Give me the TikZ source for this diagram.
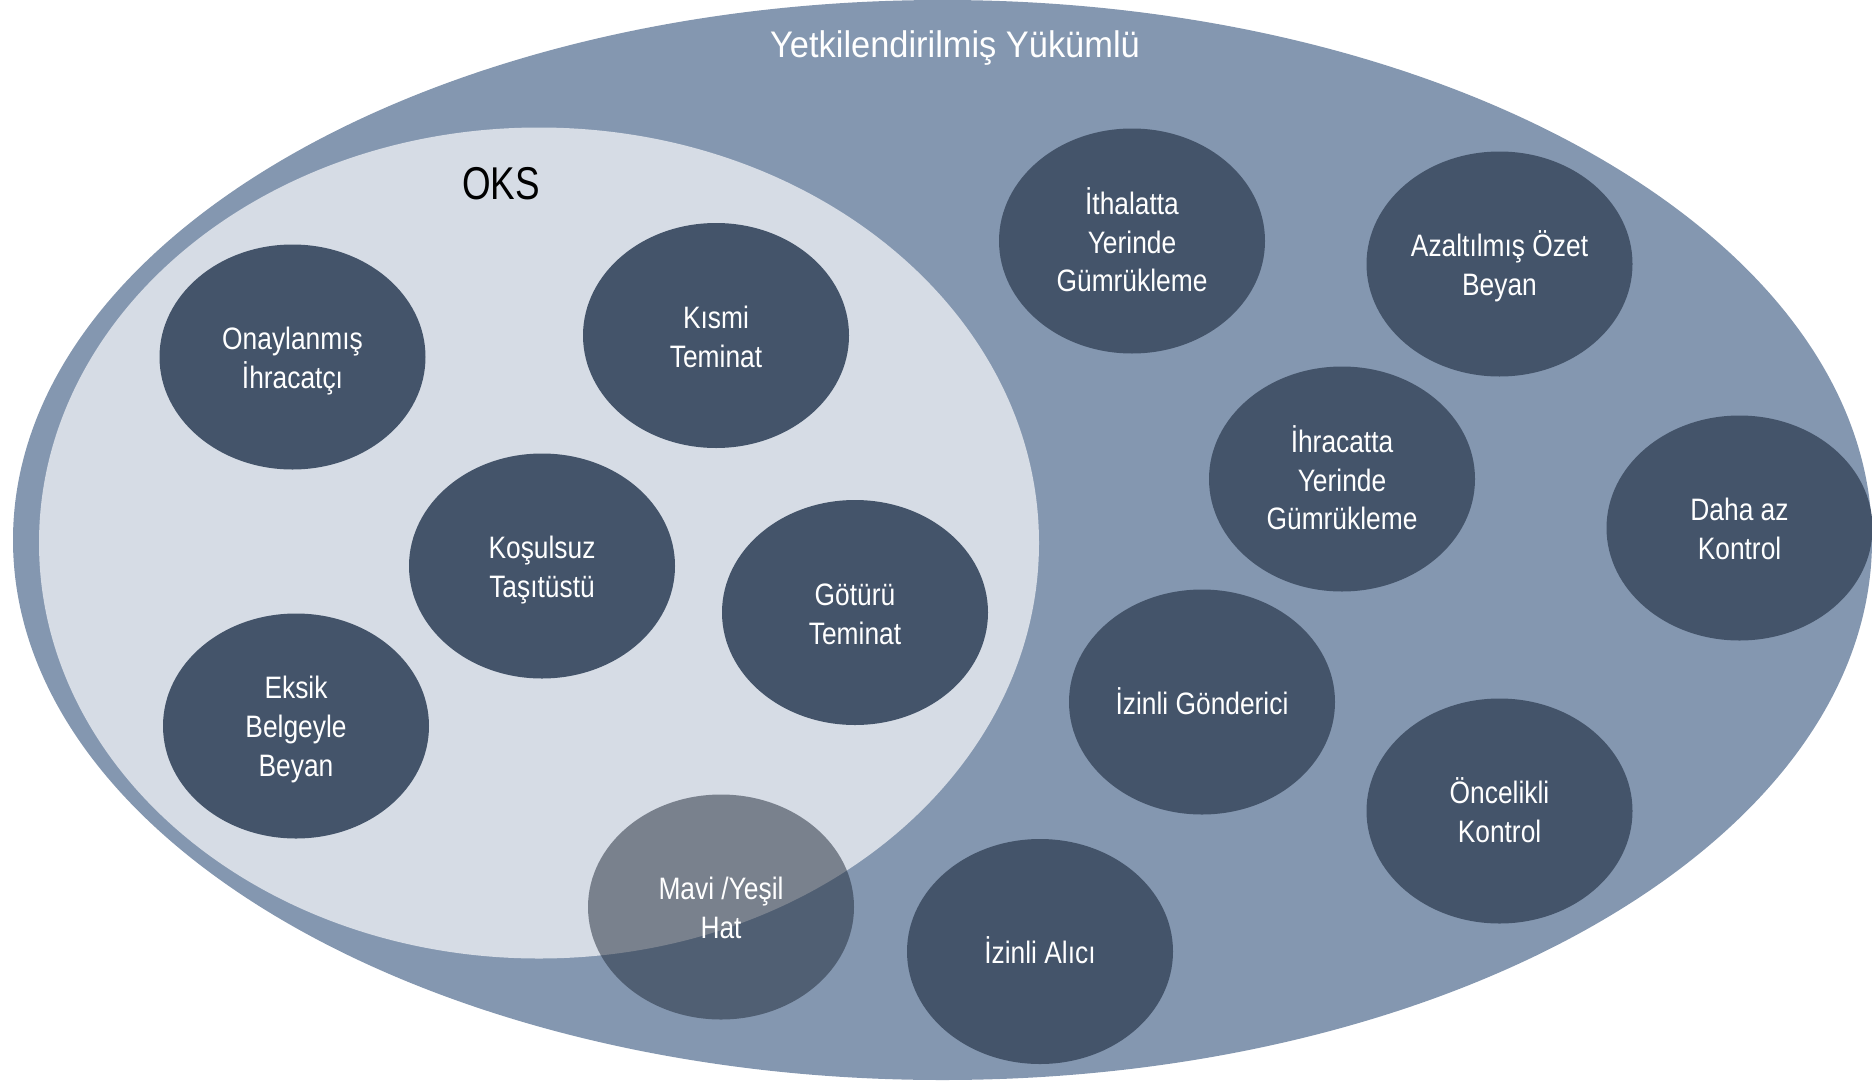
\documentclass[tikz,border=0pt]{standalone}
\usepackage{fontspec}
\setmainfont{Liberation Sans}
\newfontfamily\nodefont[FakeStretch=0.85]{Liberation Sans}
\newfontfamily\titlefont[FakeStretch=0.93]{Liberation Sans}
\newfontfamily\oksfont[FakeStretch=0.8]{Liberation Sans}
\usetikzlibrary{shapes.geometric}
\definecolor{outerc}{HTML}{8497B0}
\definecolor{innerc}{HTML}{D6DCE5}
\definecolor{nodec}{HTML}{44546A}
\definecolor{maviC}{HTML}{1E2837}
\newcommand{\btm}{\rule[-2.8pt]{0pt}{2.8pt}}
\newcommand{\tp}{\rule{0pt}{14.9pt}}
\tikzset{
  bub/.style={ellipse, fill=nodec, draw=none, minimum width=133pt, minimum height=112.5pt,
    inner sep=0pt, align=center, text=white,
    font=\nodefont\fontsize{15.5}{19.4}\selectfont},
  bubT/.style={bub, fill=maviC, fill opacity=0.5, text opacity=1}
}
\begin{document}
\begin{tikzpicture}[x=0.5pt,y=-0.5pt]
\useasboundingbox (0,0) rectangle (1872,1081);
\fill[outerc] (942.5,540) ellipse [x radius=929.5, y radius=540];
\node[font=\titlefont\fontsize{18.5}{22}\selectfont, text=white] (title) at (955,48) {Yetkilendirilmiş Yükümlü};
\fill[innerc] (539,543) ellipse [x radius=500, y radius=415.5];
\node[font=\oksfont\fontsize{23}{27}\selectfont, text=black] (oks) at (501,184) {OKS};
\node[bub] (onay) at (292.5,357) {\tp Onaylanmış\\İhracatçı\btm};
\node[bub] (kismi) at (716,335.5) {\tp Kısmi\\Teminat\btm};
\node[bub] (kosul) at (542,566) {\tp Koşulsuz\\Taşıtüstü\btm};
\node[bub] (goturu) at (855,612.5) {\tp Götürü\\Teminat\btm};
\node[bub] (eksik) at (296,726) {\tp Eksik\\Belgeyle\\Beyan\btm};
\node[bubT] (mavi) at (721,907) {\tp Mavi /Yeşil\\Hat\btm};
\node[bub] (ithal) at (1132,241) {\tp İthalatta\\Yerinde\\Gümrükleme\btm};
\node[bub] (azalt) at (1499.5,264) {\tp Azaltılmış Özet\\Beyan\btm};
\node[bub] (ihrac) at (1342,479) {\tp İhracatta\\Yerinde\\Gümrükleme\btm};
\node[bub] (daha) at (1739.5,528) {\tp Daha az\\Kontrol\btm};
\node[bub] (oncel) at (1499.5,811) {\tp Öncelikli\\Kontrol\btm};
\node[bub] (gonder) at (1202,702) {\rule[-2.8pt]{0pt}{17.8pt}İzinli Gönderici};
\node[bub] (alici) at (1040,951.5) {\rule[-2.8pt]{0pt}{17.8pt}İzinli Alıcı};
\end{tikzpicture}
\end{document}
